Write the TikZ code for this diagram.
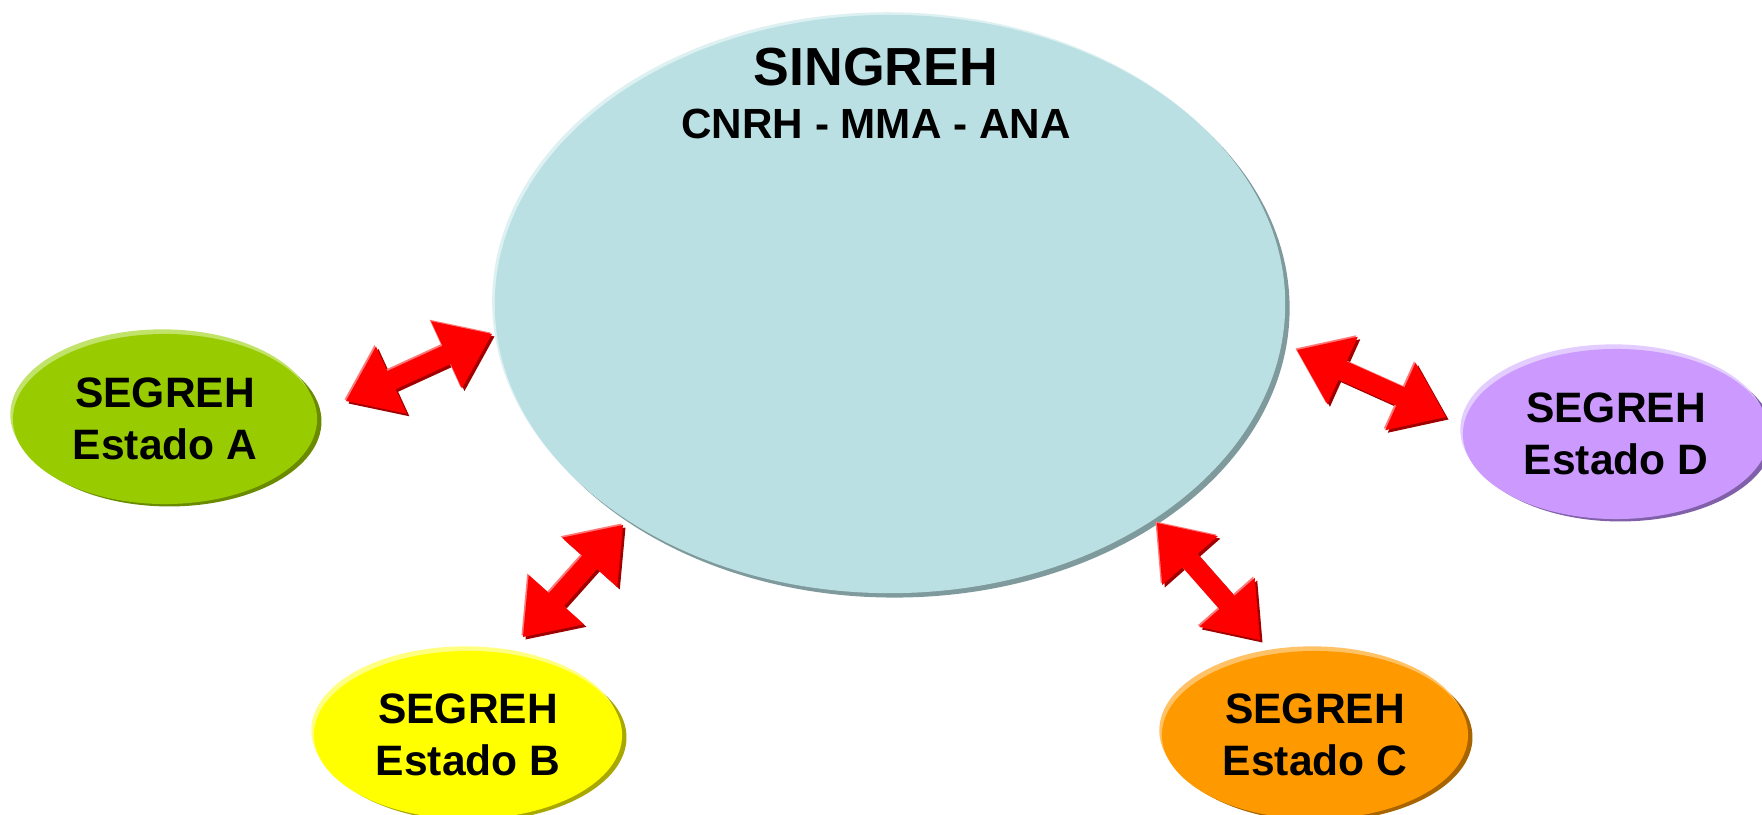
\documentclass[tikz,border=0pt]{standalone}
\usepackage{fontspec}
\setmainfont{Liberation Sans}
\usetikzlibrary{shapes.geometric,calc}
\definecolor{mainfill}{HTML}{BBE0E3}
\definecolor{mainshade}{HTML}{7F9A9C}
\definecolor{mainlight}{HTML}{DDF0F2}
\definecolor{afill}{HTML}{99CC00}
\definecolor{ashade}{HTML}{6A8A00}
\definecolor{alight}{HTML}{C2E36A}
\definecolor{bfill}{HTML}{FFFF00}
\definecolor{bshade}{HTML}{A8A800}
\definecolor{blight}{HTML}{FFFF80}
\definecolor{cfill}{HTML}{FF9900}
\definecolor{cshade}{HTML}{A86400}
\definecolor{clight}{HTML}{FFC266}
\definecolor{dfill}{HTML}{CC99FF}
\definecolor{dshade}{HTML}{8060A8}
\definecolor{dlight}{HTML}{E3CCFF}
\definecolor{arrowred}{HTML}{FF0000}
\definecolor{arrowdark}{HTML}{A00000}
\definecolor{arrowlight}{HTML}{FF7878}
\tikzset{
  blob/.style={ellipse, inner sep=0pt, outer sep=0pt, align=center,
    font=\bfseries\fontsize{12.1}{14.9}\selectfont},
  shadowed/.style={transform canvas={shift={(2.2,2.2)}}},
  lighted/.style={transform canvas={shift={(-1.3,-1.3)}}},
}
\newcommand\arrowshape[3]{%
  \fill[#3] (#1) -- ($(#1p)!0.37cm!90:(#1)$) -- ($(#1p)!0.1cm!90:(#1)$)
    -- ($(#2p)!0.1cm!-90:(#2)$) -- ($(#2p)!0.37cm!-90:(#2)$) -- (#2)
    -- ($(#2p)!0.37cm!90:(#2)$) -- ($(#2p)!0.1cm!90:(#2)$)
    -- ($(#1p)!0.1cm!-90:(#1)$) -- ($(#1p)!0.37cm!-90:(#1)$) -- cycle;}
\newcommand\blockarrow[2]{%
  \coordinate (#1p) at ($(#1)!0.5cm!(#2)$);
  \coordinate (#2p) at ($(#2)!0.5cm!(#1)$);
  \arrowshape{#1}{#2}{arrowdark, transform canvas={shift={(2.5,2.5)}}}
  \arrowshape{#1}{#2}{arrowlight, transform canvas={shift={(-1.5,-1.5)}}}
  \arrowshape{#1}{#2}{arrowred}}
\begin{document}
\begin{tikzpicture}[x=0.01cm,y=-0.01cm]
\useasboundingbox (0,0) rectangle (1762,815);
\fill[white] (0,0) rectangle (1762,815);

% main ellipse
\node[blob, fill=mainshade, minimum width=7.9cm, minimum height=5.78cm, shadowed] (mainS) at (890,304) {};
\node[blob, fill=mainlight, minimum width=7.9cm, minimum height=5.78cm, lighted] (mainL) at (890,304) {};
\node[blob, fill=mainfill, minimum width=7.9cm, minimum height=5.78cm] (main) at (890,304) {};
\node[anchor=base, inner sep=0pt, font=\bfseries\fontsize{15.25}{18}\selectfont] (title) at (876,86) {SINGREH};
\node[anchor=base, inner sep=0pt, font=\bfseries\fontsize{12.0}{14}\selectfont] (sub) at (876,139) {CNRH - MMA - ANA};

% state ellipses
\node[blob, fill=ashade, minimum width=3.04cm, minimum height=1.70cm, shadowed] (aS) at (165,417) {};
\node[blob, fill=alight, minimum width=3.04cm, minimum height=1.70cm, lighted] (aL) at (165,417) {};
\node[blob, fill=afill, minimum width=3.04cm, minimum height=1.70cm] (a) at (165,419) {SEGREH\\Estado A};

\node[blob, fill=bshade, minimum width=3.08cm, minimum height=1.68cm, shadowed] (bS) at (468,733) {};
\node[blob, fill=blight, minimum width=3.08cm, minimum height=1.68cm, lighted] (bL) at (468,733) {};
\node[blob, fill=bfill, minimum width=3.08cm, minimum height=1.68cm] (b) at (468,735) {SEGREH\\Estado B};

\node[blob, fill=cshade, minimum width=3.06cm, minimum height=1.68cm, shadowed] (cS) at (1315,733) {};
\node[blob, fill=clight, minimum width=3.06cm, minimum height=1.68cm, lighted] (cL) at (1315,733) {};
\node[blob, fill=cfill, minimum width=3.06cm, minimum height=1.68cm] (c) at (1315,735) {SEGREH\\Estado C};

\node[blob, fill=dshade, minimum width=3.06cm, minimum height=1.70cm, shadowed] (dS) at (1616,432) {};
\node[blob, fill=dlight, minimum width=3.06cm, minimum height=1.70cm, lighted] (dL) at (1616,432) {};
\node[blob, fill=dfill, minimum width=3.06cm, minimum height=1.70cm] (d) at (1616,434) {SEGREH\\Estado D};

% arrow tips
\coordinate (a1) at (346,401);
\coordinate (a2) at (492,334);
\coordinate (b1) at (523,637);
\coordinate (b2) at (623,525);
\coordinate (c1) at (1157,523);
\coordinate (c2) at (1260,640);
\coordinate (d1) at (1297,350);
\coordinate (d2) at (1446,417);

\blockarrow{a1}{a2}
\blockarrow{b1}{b2}
\blockarrow{c1}{c2}
\blockarrow{d1}{d2}
\end{tikzpicture}
\end{document}
